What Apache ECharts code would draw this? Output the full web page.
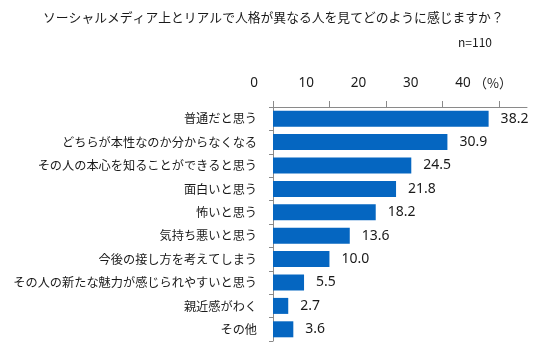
<!DOCTYPE html>
<html><head><meta charset="utf-8">
<script src="https://cdn.jsdelivr.net/npm/echarts@6/dist/echarts.min.js"></script>
<style>html,body{margin:0;padding:0;background:#fff}#c{width:560px;height:353px}</style>
</head><body><div id="c"></div>
<script>
var titleText = 'ソーシャルメディア上とリアルで人格が異なる人を見てどのように感じますか？';
var sampleText = 'n=110';
var categories = ['普通だと思う','どちらが本性なのか分からなくなる','その人の本心を知ることができると思う','面白いと思う','怖いと思う','気持ち悪いと思う','今後の接し方を考えてしまう','その人の新たな魅力が感じられやすいと思う','親近感がわく','その他'];
var values = [38.2, 30.9, 24.5, 21.8, 18.2, 13.6, 10.0, 5.5, 2.7, 3.6];
var tickValues = [0, 10, 20, 30, 40];
var unitText = '（%）';

var chart = echarts.init(document.getElementById('c'), null, {renderer:'canvas'});
var cjk = '"Noto Sans CJK JP", "Noto Sans", sans-serif';
var axisColor = '#8a8a8a';
chart.setOption({
  animation:false,
  backgroundColor:'#fff',
  graphic:[
    {type:'text', x:43, y:17, style:{text:titleText, font:'12.8px ' + cjk, fill:'#1a1a1a', verticalAlign:'middle', textAlign:'left'}},
    {type:'text', x:492, y:42, style:{text:sampleText, font:'12px ' + cjk, fill:'#1a1a1a', verticalAlign:'middle', textAlign:'right'}},
    {type:'text', x:474, y:83, style:{text:unitText, font:'13px ' + cjk, fill:'#1a1a1a', verticalAlign:'middle', textAlign:'left'}}
  ],
  grid:[
    {left:273, right:33, top:107, height:234},
    {left:254, width:209, top:107, height:234}
  ],
  xAxis:[
    {type:'value', gridIndex:0, position:'top', min:0, max:45,
     axisLine:{show:true, lineStyle:{color:axisColor}},
     axisTick:{show:true, length:6, customValues:tickValues, lineStyle:{color:axisColor}},
     axisLabel:{show:false}, splitLine:{show:false}},
    {type:'value', gridIndex:1, position:'top', min:0, max:40, interval:10,
     axisLine:{show:false}, axisTick:{show:false}, splitLine:{show:false},
     axisLabel:{show:true, margin:17, fontSize:13.5, color:'#1a1a1a', fontFamily:'"Noto Sans", sans-serif'}}
  ],
  yAxis:[
    {type:'category', gridIndex:0, data:categories, inverse:true,
     axisLine:{show:true, lineStyle:{color:axisColor}},
     axisTick:{show:true, length:4, lineStyle:{color:axisColor}},
     axisLabel:{margin:16, fontSize:12.2, color:'#1a1a1a', fontFamily:cjk}},
    {type:'category', gridIndex:1, data:categories, inverse:true, show:false}
  ],
  series:[{
    type:'bar', xAxisIndex:0, yAxisIndex:0, data:values, barWidth:16,
    itemStyle:{color:'#0566c1'},
    label:{show:true, position:'right', distance:12, fontSize:14, color:'#1a1a1a', fontFamily:'"Noto Sans", sans-serif',
      formatter:function(p){return p.value.toFixed(1);}}
  }]
});
</script></body></html>
